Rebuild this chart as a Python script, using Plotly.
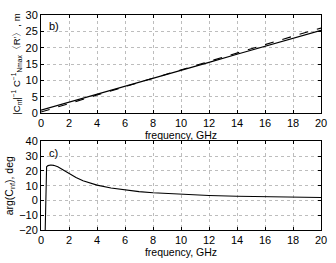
import plotly.graph_objects as go
from plotly.subplots import make_subplots

# Panel b) data
freq_b = [0, 1, 2, 4, 6, 8, 10, 12, 14, 16, 18, 20]
solid_b = [0.9, 2.1, 3.3, 5.8, 8.2, 10.6, 13.1, 15.5, 18.0, 20.4, 22.9, 25.3]
dashed_b = [0.3, 1.5, 2.9, 5.5, 8.1, 10.7, 13.3, 15.8, 18.4, 20.9, 23.5, 26.0]

# Panel c) data
freq_c = [0.3, 0.33, 0.36, 0.4, 0.5, 0.7, 0.9, 1.2, 1.5, 2, 2.5, 3, 3.5, 4, 5, 6, 7, 8, 10, 12, 14, 16, 18, 20]
phase_c = [-20, 5, 21.5, 22.8, 23.6, 24.0, 23.8, 22.8, 21.2, 18.3, 15.5, 13.3, 11.7, 10.4, 8.4, 7.0, 6.0, 5.2, 4.1, 3.4, 2.9, 2.5, 2.2, 2.0]

xticks = list(range(0, 21, 2))

fig = make_subplots(rows=2, cols=1)
fig.add_trace(go.Scatter(x=freq_b, y=solid_b, mode="lines",
                         line=dict(color="black", width=1.1)), row=1, col=1)
fig.add_trace(go.Scatter(x=freq_b, y=dashed_b, mode="lines",
                         line=dict(color="black", width=1.1, dash="dash")), row=1, col=1)
fig.add_trace(go.Scatter(x=freq_c, y=phase_c, mode="lines",
                         line=dict(color="black", width=1.1)), row=2, col=1)

font = dict(family="Liberation Sans, Arial, sans-serif", size=11, color="black")
tfont = dict(family="Liberation Sans, Arial, sans-serif", size=10.5, color="black")

axis_common = dict(showline=True, linecolor="black", linewidth=1, mirror="ticks",
                   ticks="inside", ticklen=3, tickcolor="black",
                   showgrid=True, gridcolor="#bdbdbd", griddash="dot", gridwidth=1,
                   zeroline=False, tickfont=font)

fig.update_xaxes(**axis_common, range=[0, 20], tickvals=xticks,
                 title=dict(text="frequency, GHz", font=tfont, standoff=0))
fig.update_yaxes(**axis_common)
fig.update_yaxes(range=[0, 30], tickvals=[0, 5, 10, 15, 20, 25, 30], row=1, col=1,
                 title=dict(text="|C<sub>nf</sub>|<sup>−1</sup> C<sup>−1</sup><sub>Nmax</sub>〈R′〉, m",
                            font=dict(family="Liberation Sans, Arial, sans-serif", size=9.5, color="black"),
                            standoff=3))
fig.update_yaxes(range=[-20, 40], tickvals=[-20, -10, 0, 10, 20, 30, 40], row=2, col=1,
                 title=dict(text="arg(C<sub>nf</sub>), deg", font=tfont, standoff=3))

fig.update_layout(
    width=336, height=263,
    margin=dict(l=39, r=9, t=12, b=25),
    paper_bgcolor="white", plot_bgcolor="white",
    showlegend=False, font=font,
    yaxis=dict(domain=[0.544, 1.0]),
    yaxis2=dict(domain=[0.0, 0.412]),
    annotations=[
        dict(text="b)", x=0.02, y=0.97, xref="x domain", yref="y domain",
             xanchor="left", yanchor="top", showarrow=False, font=font),
        dict(text="c)", x=0.02, y=0.96, xref="x2 domain", yref="y2 domain",
             xanchor="left", yanchor="top", showarrow=False, font=font),
    ],
)

fig.write_html("out.html", config={"displayModeBar": False},
               post_script="document.body.style.margin='0';document.body.style.overflow='hidden';")
